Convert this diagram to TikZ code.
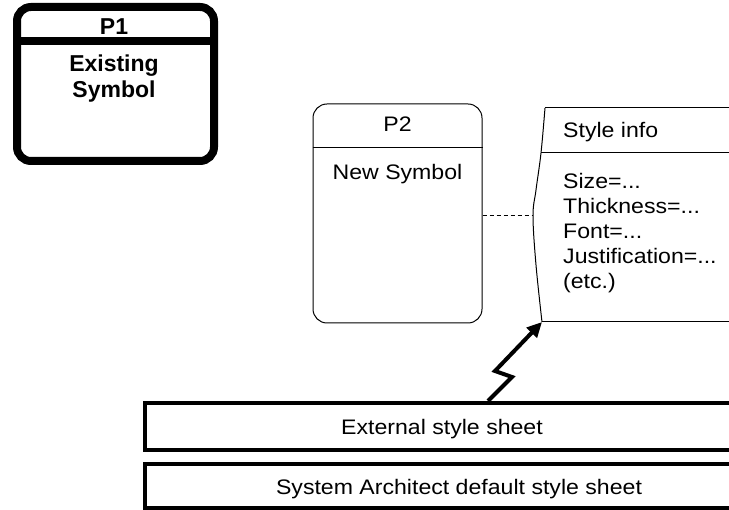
\documentclass[tikz,border=0pt]{standalone}
\usepackage{fontspec}
\setmainfont{Liberation Sans}
\newfontfamily\widesans[FakeStretch=1.1]{Liberation Sans}
\usetikzlibrary{arrows.meta}
\begin{document}
\begin{tikzpicture}[x=1pt,y=-1pt,
  thickbox/.style={draw, line width=8pt, rounded corners=14pt, inner sep=0},
  thinbox/.style={draw, line width=1pt, rounded corners=14pt, inner sep=0},
  sheet/.style={draw, line width=4pt, inner sep=0},
  txt/.style={font=\widesans\fontsize{21}{25}\selectfont, inner sep=0, anchor=base},
  ltxt/.style={txt, anchor=base west},
  btxt/.style={font=\fontsize{23}{26}\selectfont\bfseries, inner sep=0, anchor=base},
  thin/.style={line width=1pt},
  zig/.style={line width=4pt, -{Triangle[length=15pt,width=14pt]}},
]
\useasboundingbox (0,0) rectangle (729,510);
\clip (0,0) rectangle (729,510);

% P1 existing symbol
\node[thickbox, minimum width=197pt, minimum height=154pt] (p1) at (115.5,84) {};
\coordinate (h1) at (0,41);
\draw[line width=8pt] (p1.west |- h1) -- (p1.east |- h1);
\node[btxt] (p1t) at (114,35) {P1};
\node[btxt] (p1a) at (114,72) {Existing};
\node[btxt] (p1b) at (114,98) {Symbol};

% P2 new symbol
\node[thinbox, minimum width=169pt, minimum height=219pt] (p2) at (397.5,213.5) {};
\coordinate (h2) at (0,148);
\draw[thin] (p2.west |- h2) -- (p2.east |- h2);
\node[txt] (p2t) at (397.5,132) {P2};
\node[txt] (p2a) at (397.5,180) {New Symbol};

% Style info box (open to the right)
\node[inner sep=0, minimum width=200pt, minimum height=214pt, anchor=north west] (style) at (540,108) {};
\coordinate (s1) at (545,108);
\coordinate (s2) at (541,153);
\coordinate (d) at (533,216);
\coordinate (s4) at (542,322);
\draw[thin] plot[smooth, tension=0.6] coordinates {(545,108) (541,153) (536,190) (533,216) (536,265) (542,322)};
\draw[thin] (s1) -- (s1 -| style.east);
\draw[thin] (s2) -- (s2 -| style.east);
\draw[thin] (s4) -- (s4 -| style.east);
\node[ltxt] (si) at (563,138) {Style info};
\node[ltxt] (sa) at (563,189) {Size=...};
\node[ltxt] (sb) at (563,214) {Thickness=...};
\node[ltxt] (sc) at (563,239) {Font=...};
\node[ltxt] (sd) at (563,264) {Justification=...};
\node[ltxt] (se) at (563,289) {(etc.)};

% dashed link
\draw[thin, dash pattern=on 4pt off 3pt] (p2.east |- d) -- (d);

% style sheets
\node[sheet, minimum width=586pt, minimum height=47pt] (ext) at (438,426.5) {};
\node[sheet, minimum width=586pt, minimum height=44pt] (def) at (438,486) {};
\node[txt] (extt) at (442,435) {External style sheet};
\node[txt] (deft) at (459,495) {System Architect default style sheet};

% zigzag arrow
\coordinate (z0) at (488,401);
\draw[zig] (z0) -- ++(24,-24) -- ++(-17,-6) -- (s4);
\end{tikzpicture}
\end{document}
